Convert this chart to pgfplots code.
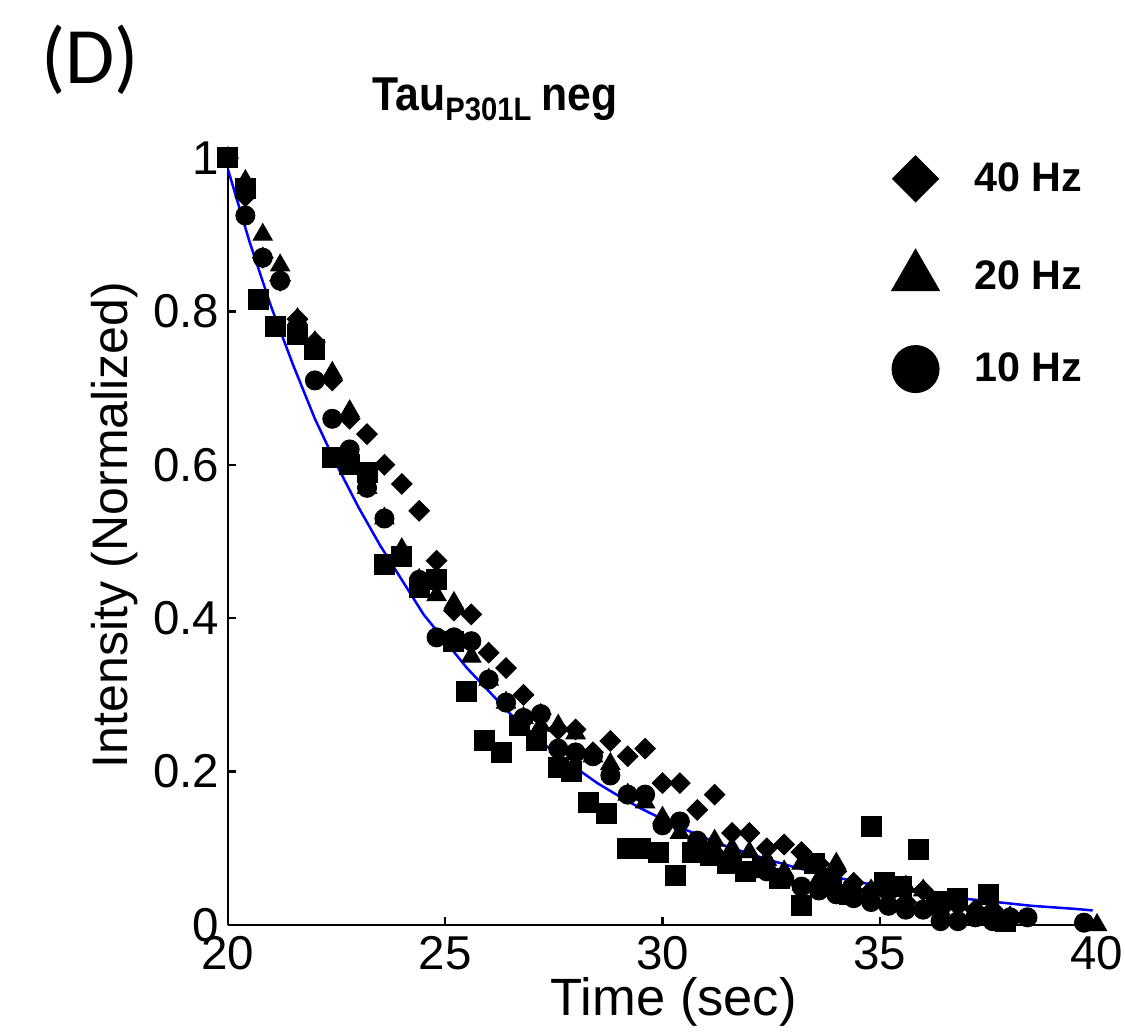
\documentclass[border=0pt]{standalone}
\usepackage{fontspec}
\setmainfont{Liberation Sans}
\newfontfamily\narrowfont[FakeStretch=0.9]{Liberation Sans}
\newfontfamily\panelfont{Carlito}
\usepackage{pgfplots}
\pgfplotsset{compat=1.18}

% 40 Hz
\pgfplotstableread{
t I
20.0 1.00
20.4 0.95
20.8 0.87
21.2 0.84
21.6 0.79
22.0 0.76
22.4 0.71
22.8 0.66
23.2 0.64
23.6 0.60
24.0 0.575
24.4 0.54
24.8 0.475
25.2 0.41
25.6 0.405
26.0 0.355
26.4 0.335
26.8 0.30
27.2 0.275
27.6 0.255
28.0 0.255
28.4 0.225
28.8 0.24
29.2 0.22
29.6 0.23
30.0 0.185
30.4 0.185
30.8 0.15
31.2 0.17
31.6 0.12
32.0 0.12
32.4 0.10
32.8 0.105
33.2 0.095
33.6 0.08
34.0 0.07
34.4 0.055
34.8 0.045
35.2 0.04
35.6 0.03
36.0 0.045
36.4 0.02
36.8 0.025
37.2 0.02
37.6 0.02
38.0 0.01
}\hzforty

% 20 Hz
\pgfplotstableread{
t I
20.0 1.00
20.4 0.97
20.8 0.90
21.2 0.86
21.6 0.79
22.0 0.76
22.4 0.72
22.8 0.67
23.2 0.57
23.6 0.53
24.0 0.49
24.4 0.45
24.8 0.43
25.2 0.42
25.6 0.35
26.0 0.32
26.4 0.29
26.8 0.27
27.2 0.26
27.6 0.26
28.0 0.25
28.4 0.22
28.8 0.21
29.2 0.17
29.6 0.16
30.0 0.14
30.4 0.12
30.8 0.105
31.2 0.11
31.6 0.10
32.0 0.095
32.4 0.085
32.8 0.07
33.2 0.08
33.6 0.06
34.0 0.08
34.4 0.05
34.8 0.045
35.2 0.03
35.6 0.05
36.0 0.045
36.4 0.02
36.8 0.03
37.2 0.015
37.6 0.02
38.0 0.01
40.0 0.00
}\hztwenty

% 10 Hz
\pgfplotstableread{
t I
20.0 1.00
20.4 0.925
20.8 0.87
21.2 0.84
21.6 0.78
22.0 0.71
22.4 0.66
22.8 0.62
23.2 0.57
23.6 0.53
24.0 0.48
24.4 0.45
24.8 0.375
25.2 0.375
25.6 0.37
26.0 0.32
26.4 0.29
26.8 0.27
27.2 0.275
27.6 0.23
28.0 0.225
28.4 0.22
28.8 0.195
29.2 0.17
29.6 0.17
30.0 0.13
30.4 0.135
30.8 0.11
31.2 0.09
31.6 0.085
32.0 0.07
32.4 0.07
32.8 0.06
33.2 0.05
33.6 0.045
34.0 0.04
34.4 0.035
34.8 0.03
35.2 0.025
35.6 0.02
36.0 0.02
36.4 0.005
36.8 0.005
37.2 0.01
37.6 0.005
38.0 0.01
38.4 0.01
39.7 0.003
}\hzten

% squares (no legend entry)
\pgfplotstableread{
t I
20.0 1.00
20.4 0.96
20.7 0.815
21.1 0.78
21.6 0.77
22.0 0.75
22.4 0.61
22.8 0.60
23.2 0.59
23.6 0.47
24.0 0.48
24.4 0.44
24.8 0.45
25.2 0.37
25.5 0.305
25.9 0.24
26.3 0.225
26.7 0.26
27.1 0.24
27.6 0.205
27.9 0.20
28.3 0.16
28.7 0.145
29.2 0.10
29.5 0.10
29.9 0.095
30.3 0.065
30.7 0.095
31.1 0.09
31.5 0.08
31.9 0.07
32.3 0.075
32.7 0.06
33.2 0.025
33.5 0.08
33.9 0.06
34.3 0.04
34.8 0.128
35.1 0.055
35.5 0.05
35.9 0.098
36.3 0.03
36.8 0.035
37.5 0.04
37.9 0.005
}\sqdata

% fitted decay
\pgfplotstableread{
t I
20.0 0.985
20.5 0.89
21.0 0.805
21.5 0.73
22.0 0.66
22.5 0.60
23.0 0.545
23.5 0.495
24.0 0.45
24.5 0.405
25.0 0.37
25.5 0.335
26.0 0.305
26.5 0.275
27.0 0.25
27.5 0.225
28.0 0.205
28.5 0.185
29.0 0.168
29.5 0.152
30.0 0.138
30.5 0.125
31.0 0.113
31.5 0.102
32.0 0.093
32.5 0.084
33.0 0.076
33.5 0.069
34.0 0.062
34.5 0.056
35.0 0.051
35.5 0.046
36.0 0.042
36.5 0.038
37.0 0.034
37.5 0.031
38.0 0.028
38.5 0.025
39.0 0.023
39.5 0.021
39.9 0.019
}\fitdata

\begin{document}
\begin{tikzpicture}
\path[use as bounding box] (-91.2pt,-42.8pt) rectangle (358.8pt,370pt);
\begin{axis}[
  scale only axis, width=347.6pt, height=306.8pt,
  xmin=20, xmax=40, ymin=0, ymax=1,
  axis x line*=bottom, axis y line*=left,
  axis line style={line width=1pt},
  clip=false,
  tick align=inside, major tick length=3.2pt,
  every tick/.style={black, line width=1pt},
  xtick={20,25,30,35,40}, ytick={0,0.2,0.4,0.6,0.8,1},
  /pgf/number format/assume math mode=true,
  tick label style={font=\fontsize{19}{22}\selectfont},
  xticklabel style={yshift=-1pt},
  xlabel={Time (sec)}, ylabel={Intensity (Normalized)},
  xlabel style={font=\fontsize{21}{24}\selectfont, at={(axis description cs:0.513,-0.1)}, anchor=center},
  ylabel style={font=\fontsize{20}{23}\selectfont, at={(axis description cs:-0.13,0.5215)}, anchor=center},
  title={Tau\raisebox{-4pt}{\fontsize{13}{15}\selectfont\bfseries P301L}\hspace{4pt}neg},
  title style={font=\narrowfont\bfseries\fontsize{19}{22}\selectfont, at={(0.1657,1.043)}, anchor=base west, inner sep=0pt, yshift=0pt},
  legend cell align=left,
  legend style={at={(0.7546,1.01)}, anchor=north west, draw=none, fill=none,
    font=\bfseries\fontsize{16.5}{19}\selectfont, row sep=19pt,
    /tikz/every odd column/.append style={column sep=12pt}},
]
\addplot[only marks, mark=square*, mark size=2.9pt, mark options={rotate=45}, black, forget plot] table {\hzforty};
\addplot[only marks, mark=triangle*, mark size=4.4pt, black, forget plot] table {\hztwenty};
\addplot[only marks, mark=*, mark size=3.8pt, black, forget plot] table {\hzten};
\addplot[only marks, mark=square*, mark size=4pt, black, forget plot] table {\sqdata};
\addplot[blue, line width=1pt, forget plot] table {\fitdata};

\addlegendimage{only marks, mark=square*, mark size=6.5pt, mark options={rotate=45}, black}
\addlegendentry{40 Hz}
\addlegendimage{only marks, mark=triangle*, mark size=11pt, black}
\addlegendentry{20 Hz}
\addlegendimage{only marks, mark=*, mark size=9.4pt, black}
\addlegendentry{10 Hz}
\end{axis}
\node[font=\panelfont\fontsize{32}{36}\selectfont] at (-55.2pt,346pt) {(D)};
\end{tikzpicture}
\end{document}
